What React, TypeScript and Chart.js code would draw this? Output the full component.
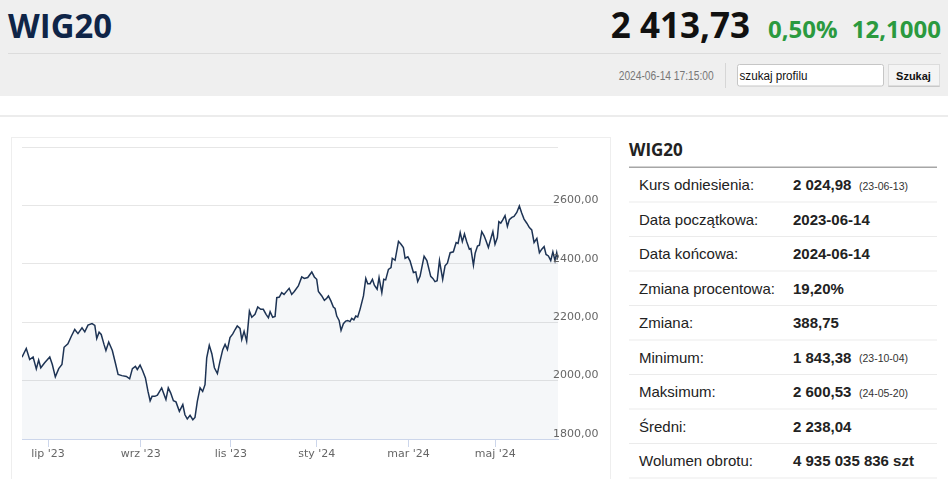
import React, { useEffect, useRef } from 'react';
import { Chart, registerables } from 'chart.js';

Chart.register(...registerables);

// trading-day index (0 = 2023-06-14, 251 = 2024-06-14) and closing values of WIG20
const tradingDay = [
  0, 2.0, 3.6, 5.2, 6.7, 7.8, 8.8, 10.6, 13.0, 14.2,
  15.6, 17.2, 18.7, 19.7, 21.5, 23.1, 24.7, 26.2, 28.1, 29.4,
  30.9, 32.8, 34.1, 35.0, 36.1, 37.1, 38.4, 39.3, 40.6, 42.3,
  43.7, 45.0, 46.8, 48.9, 50.4, 51.7, 53.1, 54.0, 55.3, 56.5,
  57.8, 59.0, 60.0, 60.9, 62.2, 63.4, 65.4, 67.4, 68.5, 69.6,
  70.9, 72.1, 73.7, 75.3, 76.3, 77.4, 78.7, 80.0, 81.0, 82.1,
  83.4, 84.6, 85.7, 86.5, 87.7, 88.9, 90.1, 91.5, 92.7, 94.0,
  95.1, 96.2, 97.4, 98.7, 99.8, 100.8, 102.1, 102.9, 104.0, 105.2,
  106.5, 107.6, 109.1, 110.4, 111.8, 113.0, 114.3, 115.4, 116.2, 117.4,
  118.5, 119.3, 120.5, 121.6, 122.7, 124.3, 125.1, 126.3, 127.5, 129.4,
  131.0, 132.2, 133.8, 135.7, 136.9, 138.0, 138.8, 140.4, 141.6, 142.7,
  143.5, 144.7, 145.8, 146.6, 147.4, 148.5, 149.4, 150.5, 151.6, 152.5,
  153.6, 154.4, 155.4, 156.3, 157.2, 158.3, 159.9, 161.0, 161.9, 163.0,
  164.1, 165.0, 166.3, 167.2, 168.5, 169.4, 170.3, 171.6, 172.8, 173.4,
  174.7, 176.3, 177.5, 178.6, 179.4, 180.7, 181.7, 183.3, 184.4, 185.3,
  186.4, 188.3, 189.6, 191.4, 192.4, 193.4, 194.4, 195.5, 197.0, 198.1,
  199.2, 200.5, 202.0, 203.3, 204.2, 205.2, 206.2, 207.2, 208.3, 209.5,
  210.2, 211.4, 212.2, 213.3, 214.2, 215.3, 216.4, 217.3, 218.4, 219.5,
  220.5, 221.5, 222.6, 223.3, 224.2, 225.2, 226.2, 227.3, 228.2, 229.4,
  230.4, 231.7, 232.9, 234.0, 235.1, 236.4, 237.6, 238.7, 239.8, 241.1,
  242.3, 243.4, 244.5, 245.4, 246.5, 247.6, 248.6, 249.6, 250.4, 251.0,
];

const closeValue = [
  2080, 2110, 2072, 2081, 2040, 2070, 2044, 2061, 2081, 2055,
  2013, 2041, 2055, 2114, 2126, 2152, 2175, 2161, 2181, 2167,
  2190, 2195, 2189, 2144, 2166, 2158, 2124, 2103, 2132, 2103,
  2061, 2021, 2017, 2014, 2006, 2041, 2049, 2038, 2053, 2034,
  2009, 1963, 1931, 1946, 1946, 1950, 1975, 1935, 1975, 1958,
  1931, 1927, 1895, 1918, 1883, 1869, 1881, 1866, 1874, 1929,
  1975, 1963, 1986, 2078, 2121, 2092, 2044, 2024, 2066, 2106,
  2124, 2106, 2147, 2160, 2175, 2187, 2179, 2141, 2169, 2135,
  2238, 2217, 2227, 2252, 2244, 2244, 2227, 2215, 2236, 2217,
  2220, 2284, 2286, 2301, 2295, 2309, 2316, 2295, 2305, 2324,
  2355, 2350, 2353, 2372, 2355, 2347, 2305, 2290, 2275, 2282,
  2290, 2272, 2252, 2247, 2221, 2206, 2172, 2195, 2204, 2206,
  2202, 2213, 2208, 2221, 2218, 2244, 2290, 2350, 2332, 2332,
  2347, 2327, 2313, 2353, 2301, 2347, 2345, 2381, 2387, 2419,
  2412, 2477, 2467, 2456, 2419, 2424, 2410, 2370, 2372, 2339,
  2357, 2426, 2411, 2357, 2350, 2339, 2342, 2411, 2347, 2393,
  2402, 2438, 2441, 2473, 2470, 2507, 2476, 2502, 2475, 2450,
  2452, 2395, 2436, 2461, 2464, 2510, 2496, 2479, 2456, 2485,
  2510, 2467, 2490, 2544, 2539, 2551, 2565, 2528, 2551, 2559,
  2562, 2576, 2598, 2574, 2553, 2539, 2524, 2516, 2473, 2487,
  2438, 2450, 2459, 2432, 2427, 2411, 2441, 2411, 2438, 2414,
];

const monthTickDays = [12.2, 55.6, 97.8, 138.0, 181.0, 221.6];
const monthLabels = ["lip '23", "wrz '23", "lis '23", "sty '24", "mar '24", "maj '24"];
const yTickValues = [1800, 2000, 2200, 2400, 2600, 2800];

const statLabels = [
  'Kurs odniesienia:',
  'Data początkowa:',
  'Data końcowa:',
  'Zmiana procentowa:',
  'Zmiana:',
  'Minimum:',
  'Maksimum:',
  'Średni:',
  'Wolumen obrotu:',
];
const statValues = [
  '2 024,98',
  '2023-06-14',
  '2024-06-14',
  '19,20%',
  '388,75',
  '1 843,38',
  '2 600,53',
  '2 238,04',
  '4 935 035 836 szt',
];
const statNotes = ['(23-06-13)', '', '', '', '', '(23-10-04)', '(24-05-20)', '', ''];

const SANS = "'Liberation Sans', Arial, sans-serif";
const OPEN = "'Open Sans', sans-serif";

const formatY = (v: number) => v.toFixed(2).replace('.', ',');

// draws the right-hand value labels just above each grid line (Highcharts-stock style)
const yLabelPlugin = {
  id: 'yLabelsAbove',
  afterDraw(chart: any) {
    const scale = chart.scales.y;
    const ctx = chart.ctx;
    ctx.save();
    ctx.font = "11px 'DejaVu Sans'";
    ctx.fillStyle = '#666666';
    ctx.textAlign = 'left';
    ctx.textBaseline = 'middle';
    yTickValues.forEach((v) => {
      if (v === 2800) return;
      ctx.fillText(formatY(v), chart.chartArea.right - 5, scale.getPixelForValue(v) - 5);
    });
    ctx.restore();
  },
};

export default function App() {
  const canvasRef = useRef<HTMLCanvasElement>(null);

  useEffect(() => {
    const canvas = canvasRef.current;
    if (!canvas) return;
    const points = tradingDay.map((d, i) => ({ x: d, y: closeValue[i] }));
    const tickFont = { family: 'DejaVu Sans', size: 11 };
    const chart = new Chart(canvas, {
      type: 'line',
      data: {
        datasets: [
          {
            data: points,
            borderColor: '#1d3354',
            borderWidth: 1.5,
            backgroundColor: 'rgba(30,60,120,0.045)',
            fill: 'start',
            pointRadius: 0,
            pointHoverRadius: 0,
            tension: 0,
          },
        ],
      },
      options: {
        animation: false,
        responsive: false,
        layout: { padding: { left: 10, top: 9, right: 0, bottom: 0 } },
        plugins: { legend: { display: false }, tooltip: { enabled: false } },
        scales: {
          x: {
            type: 'linear',
            position: 'bottom',
            min: 0,
            max: 251,
            afterBuildTicks: (s: any) => {
              s.ticks = monthTickDays.map((v) => ({ value: v }));
            },
            afterFit: (s: any) => {
              s.height = 40;
            },
            ticks: {
              autoSkip: false,
              maxRotation: 0,
              minRotation: 0,
              padding: 1,
              color: '#666666',
              font: tickFont,
              callback: (_v: any, i: number) => monthLabels[i],
            },
            grid: {
              drawOnChartArea: false,
              drawTicks: true,
              tickLength: 8,
              color: '#ccd6eb',
            },
            border: { display: true, color: '#ccd6eb' },
          },
          y: {
            type: 'linear',
            position: 'right',
            min: 1800,
            max: 2800,
            afterBuildTicks: (s: any) => {
              s.ticks = yTickValues.map((v) => ({ value: v }));
            },
            afterFit: (s: any) => {
              s.width = 52;
            },
            ticks: { display: false },
            grid: { color: '#e6e6e6', drawTicks: false },
            border: { display: false },
          },
        },
      },
      plugins: [yLabelPlugin],
    } as any);
    return () => chart.destroy();
  }, []);

  return (
    <div
      style={{
        position: 'fixed',
        left: 0,
        top: 0,
        width: 948,
        height: 479,
        overflow: 'hidden',
        background: '#ffffff',
      }}
    >
      <svg
        width={948}
        height={479}
        style={{ position: 'absolute', left: 0, top: 0 }}
      >
        {/* header */}
        <rect x={0} y={0} width={948} height={96} fill="#efefef" />
        <text x={8} y={37.5} fontFamily={OPEN} fontWeight={700} fontSize={34} fill="#0f2548" textLength={104} lengthAdjust="spacingAndGlyphs">
          WIG20
        </text>
        <text x={750} y={38.3} textAnchor="end" fontFamily={OPEN} fontWeight={700} fontSize={35} fill="#111111">
          2 413,73
        </text>
        <text x={768} y={38.3} fontFamily={OPEN} fontWeight={700} fontSize={24} fill="#2b9a3f">
          0,50%
        </text>
        <text x={941} y={38.3} textAnchor="end" fontFamily={OPEN} fontWeight={700} fontSize={24} fill="#2b9a3f">
          12,1000
        </text>
        <rect x={8} y={53} width={933} height={1} fill="#dcdcdc" />
        <text x={618.7} y={80} fontFamily={SANS} fontSize={12} fill="#777777" textLength={95} lengthAdjust="spacingAndGlyphs">
          2024-06-14 17:15:00
        </text>
        <rect x={725} y={63} width={1} height={25} fill="#d6d6d6" />
        <rect x={737.5} y={64.5} width={146} height={21.5} rx={2} fill="#ffffff" stroke="#c6c6c6" />
        <text x={739.5} y={80} fontFamily={SANS} fontSize={12} fill="#111111" textLength={68} lengthAdjust="spacingAndGlyphs">
          szukaj profilu
        </text>
        <rect x={888.5} y={64.5} width={51} height={22} fill="#f4f4f4" stroke="#dcdcdc" />
        <rect x={888.5} y={85.5} width={51} height={1.5} fill="#c8c8c8" />
        <text x={913.5} y={80} textAnchor="middle" fontFamily={SANS} fontWeight={700} fontSize={11} fill="#111111">
          Szukaj
        </text>
        <rect x={0} y={115} width={948} height={2} fill="#ececec" />

        {/* chart panel border */}
        <rect x={11.5} y={137.5} width={599} height={360} fill="none" stroke="#eeeeee" />

        {/* right panel */}
        <text x={629} y={156} fontFamily={OPEN} fontWeight={700} fontSize={17} fill="#222222">
          WIG20
        </text>
        <rect x={629} y={166.5} width={308} height={1.5} fill="#a6a6a6" />
        {statLabels.map((label, i) => (
          <g key={label}>
            <text x={639} y={190 + 34.5 * i} fontFamily={SANS} fontSize={15} fill="#222222">
              {label}
            </text>
            <text x={793} y={190 + 34.5 * i} fontFamily={SANS} fontWeight={700} fontSize={15} fill="#222222">
              {statValues[i]}
            </text>
            {statNotes[i] ? (
              <text x={859} y={189.5 + 34.5 * i} fontFamily={SANS} fontSize={10.5} fill="#333333">
                {statNotes[i]}
              </text>
            ) : null}
            <rect x={629} y={201.5 + 34.5 * i} width={308} height={1} fill="#ebebeb" />
          </g>
        ))}
      </svg>
      <canvas
        ref={canvasRef}
        width={598}
        height={341}
        style={{ position: 'absolute', left: 12, top: 138, width: 598, height: 341 }}
      />
    </div>
  );
}
